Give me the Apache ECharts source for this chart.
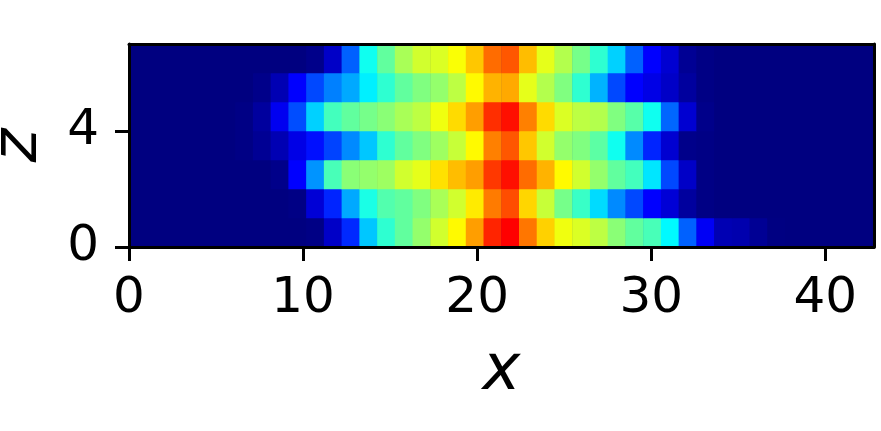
<!DOCTYPE html>
<html><head><meta charset="utf-8">
<style>html,body{margin:0;padding:0;background:#fff}#c{width:881px;height:431px}</style>
<script src="https://cdn.jsdelivr.net/npm/echarts@6/dist/echarts.min.js"></script>
</head><body><div id="c"></div>
<script>
// Values per row (z), 42 columns each, normalised 0..1 on the jet scale
const row0=[0,0,0,0,0,0,0,0,0,0,.005,.07,.165,.32,.42,.47,.52,.58,.63,.72,.84,.875,.76,.67,.61,.59,.56,.51,.47,.445,.37,.22,.115,.05,.045,.02,.002,0,0,0,0,0];
const row1=[0,0,0,0,0,0,0,0,0,.005,.085,.16,.29,.40,.455,.47,.5,.54,.58,.645,.755,.80,.665,.57,.49,.43,.34,.26,.195,.125,.085,.03,.005,0,0,0,0,0,0,0,0,0];
const row2=[0,0,0,0,0,0,0,0,.01,.125,.27,.445,.51,.52,.53,.58,.60,.655,.69,.72,.82,.86,.77,.70,.63,.58,.52,.47,.44,.35,.195,.07,.005,0,0,0,0,0,0,0,0,0];
const row3=[0,0,0,0,0,0,.005,.02,.05,.10,.14,.19,.26,.32,.42,.47,.5,.53,.57,.63,.75,.79,.68,.58,.52,.5,.465,.39,.26,.16,.08,.01,.005,0,0,0,0,0,0,0,0,0];
const row4=[0,0,0,0,0,0,.005,.03,.11,.2,.33,.44,.47,.49,.51,.54,.56,.61,.66,.72,.83,.86,.75,.66,.59,.56,.55,.5,.46,.39,.225,.08,.01,0,0,0,0,0,0,0,0,0];
const row5=[0,0,0,0,0,0,0,.01,.05,.125,.195,.25,.29,.36,.42,.47,.5,.52,.56,.63,.70,.71,.60,.55,.5,.42,.30,.195,.125,.10,.07,.03,.005,0,0,0,0,0,0,0,0,0];
const row6=[0,0,0,0,0,0,0,0,0,0,.01,.07,.22,.39,.47,.54,.58,.59,.62,.68,.77,.79,.69,.60,.55,.49,.42,.33,.22,.125,.08,.02,.005,0,0,0,0,0,0,0,0,0];
const rows=[row0,row1,row2,row3,row4,row5,row6];
const columns=row0.map((_,i)=>String(i));
const rowNames=rows.map((_,i)=>String(i));
const xTicks=[0,10,20,30,40];
const zTicks=[0,4];
const xLimit=42.8, zLimit=7;
const jet=['#000080','#0000ff','#0080ff','#00ffff','#80ff80','#ffff00','#ff8000','#ff0000','#800000'];
const cells=[];
rows.forEach((r,j)=>r.forEach((v,i)=>cells.push([i,j,v])));

const font='"DejaVu Sans"';
const lineW=3, tickLen=14, fs=50;
const lineStyle={color:'#000',width:lineW};
const chart=echarts.init(document.getElementById('c'),null,{renderer:'canvas'});
chart.setOption({
  animation:false,
  backgroundColor:'#fff',
  grid:{show:true,backgroundColor:'#000080',borderWidth:0,left:129,top:44,width:745,height:203,containLabel:false,outerBoundsMode:'none'},
  visualMap:{show:false,min:0,max:1,dimension:2,seriesIndex:0,inRange:{color:jet}},
  xAxis:[
    {type:'category',data:columns,show:false,position:'bottom'},
    {type:'value',min:0,max:xLimit,interval:10,position:'bottom',z:5,
     splitLine:{show:false},
     axisLine:{show:true,onZero:false,lineStyle},
     axisTick:{show:true,length:tickLen,lineStyle:{color:'#000',width:lineW},customValues:xTicks},
     axisLabel:{fontFamily:font,fontSize:fs,color:'#000',margin:27,customValues:xTicks,formatter:v=>String(v)},
     name:'x',nameLocation:'middle',nameGap:93,
     nameTextStyle:{fontFamily:font,fontStyle:'italic',fontSize:64,color:'#000'}},
    {type:'value',min:0,max:xLimit,position:'top',z:5,
     splitLine:{show:false},axisLine:{show:true,onZero:false,lineStyle},axisTick:{show:false},axisLabel:{show:false}}
  ],
  yAxis:[
    {type:'category',data:rowNames,show:false,position:'left'},
    {type:'value',min:0,max:zLimit,interval:4,position:'left',z:5,
     splitLine:{show:false},
     axisLine:{show:true,onZero:false,lineStyle},
     axisTick:{show:true,length:tickLen,lineStyle:{color:'#000',width:lineW},customValues:zTicks},
     axisLabel:{fontFamily:font,fontSize:fs,color:'#000',margin:30,padding:[4,0,0,0],customValues:zTicks,formatter:v=>String(v)},
     name:'z',nameLocation:'middle',nameGap:78,nameRotate:90,
     nameTextStyle:{fontFamily:font,fontStyle:'italic',fontSize:64,color:'#000'}},
    {type:'value',min:0,max:zLimit,position:'right',z:5,
     splitLine:{show:false},axisLine:{show:true,onZero:false,lineStyle},axisTick:{show:false},axisLabel:{show:false}}
  ],
  series:[{type:'heatmap',xAxisIndex:0,yAxisIndex:0,data:cells,progressive:0,itemStyle:{borderWidth:0},emphasis:{disabled:true}}]
});
</script></body></html>
